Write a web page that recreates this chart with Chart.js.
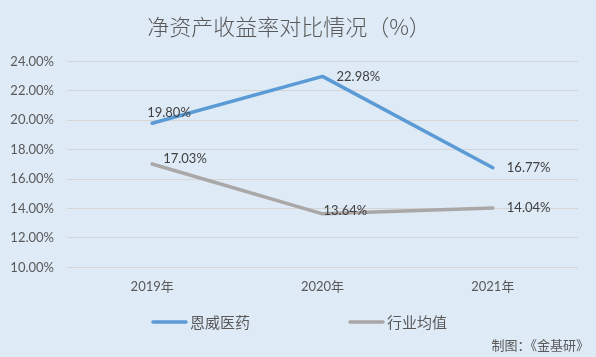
<!DOCTYPE html>
<html>
<head>
<meta charset="utf-8">
<script src="https://cdn.jsdelivr.net/npm/chart.js@4"></script>
<style>
  html, body { margin: 0; padding: 0; background: #DEEAF6; }
  canvas { display: block; }
</style>
</head>
<body>
<canvas id="c" width="596" height="357"></canvas>
<script>
const categories = ['2019年', '2020年', '2021年'];
const seriesNames = ['恩威医药', '行业均值'];
const enweiValues = [19.80, 22.98, 16.77];
const industryValues = [17.03, 13.64, 14.04];
const yTicks = { min: 10, max: 24, step: 2 };
const titleText = '净资产收益率对比情况（%）';
const sourceText = '制图：《金基研》';

const FONT = "Lato, 'Noto Sans CJK SC', sans-serif";
const CJK = "'Noto Sans CJK SC', sans-serif";

// label offsets (dx from point to label left edge, dy to label center)
const labelOffsets = [
  [[-5, -10], [14, 0], [14, 0]],
  [[11, -5], [1, -3], [14, 0]]
];

const bgPlugin = {
  id: 'bg',
  beforeDraw(chart) {
    const ctx = chart.ctx;
    ctx.save();
    ctx.fillStyle = '#DEEAF6';
    ctx.fillRect(0, 0, chart.width, chart.height);
    ctx.restore();
  }
};

const labelsPlugin = {
  id: 'pointLabels',
  afterDatasetsDraw(chart) {
    const ctx = chart.ctx;
    ctx.save();
    ctx.font = "13px " + FONT;
    ctx.fillStyle = '#404040';
    ctx.textAlign = 'left';
    ctx.textBaseline = 'middle';
    chart.data.datasets.forEach((ds, di) => {
      const meta = chart.getDatasetMeta(di);
      meta.data.forEach((pt, i) => {
        const off = labelOffsets[di][i];
        ctx.fillText(ds.data[i].toFixed(2) + '%', pt.x + off[0], pt.y + off[1]);
      });
    });
    ctx.restore();
  }
};

const legendPlugin = {
  id: 'customLegend',
  afterDraw(chart) {
    const ctx = chart.ctx;
    ctx.save();
    const y = 322;
    const starts = [153, 350];
    ctx.font = "15px " + CJK;
    ctx.textBaseline = 'middle';
    ctx.textAlign = 'left';
    chart.data.datasets.forEach((ds, di) => {
      const x = starts[di];
      ctx.strokeStyle = ds.borderColor;
      ctx.lineWidth = 3.5;
      ctx.lineCap = 'round';
      ctx.beginPath();
      ctx.moveTo(x, y);
      ctx.lineTo(x + 33, y);
      ctx.stroke();
      ctx.fillStyle = '#595959';
      ctx.fillText(ds.label, x + 37, y);
    });
    ctx.font = "13px " + CJK;
    ctx.textAlign = 'right';
    ctx.fillText(sourceText, 589, 345);
    ctx.restore();
  }
};

new Chart(document.getElementById('c'), {
  type: 'line',
  data: {
    labels: categories,
    datasets: [
      {
        label: seriesNames[0],
        data: enweiValues,
        borderColor: '#5B9BD5',
        backgroundColor: '#5B9BD5',
        borderWidth: 3.5,
        borderCapStyle: 'round',
        borderJoinStyle: 'round',
        pointRadius: 0,
        tension: 0
      },
      {
        label: seriesNames[1],
        data: industryValues,
        borderColor: '#AAA7A7',
        backgroundColor: '#AAA7A7',
        borderWidth: 3.5,
        borderCapStyle: 'round',
        borderJoinStyle: 'round',
        pointRadius: 0,
        tension: 0
      }
    ]
  },
  options: {
    responsive: false,
    animation: false,
    devicePixelRatio: 1,
    layout: { padding: { left: 0, right: 18, top: 0, bottom: 50 } },
    plugins: {
      legend: { display: false },
      tooltip: { enabled: false },
      title: {
        display: true,
        text: titleText,
        color: '#595959',
        font: { family: CJK, size: 22, weight: '300' },
        padding: { top: 13, bottom: 22 }
      }
    },
    scales: {
      x: {
        offset: true,
        grid: { display: false, drawTicks: false },
        border: { display: false },
        ticks: {
          color: '#595959',
          font: { family: FONT, size: 13 },
          padding: 12,
          maxRotation: 0
        }
      },
      y: {
        min: yTicks.min,
        max: yTicks.max,
        afterFit(scale) { scale.width = 67; },
        grid: { color: '#D5D5D5', lineWidth: 1, drawTicks: false },
        border: { display: false },
        ticks: {
          stepSize: yTicks.step,
          color: '#595959',
          font: { family: FONT, size: 13 },
          padding: 13,
          callback: v => v.toFixed(2) + '%'
        }
      }
    }
  },
  plugins: [bgPlugin, labelsPlugin, legendPlugin]
});
</script>
</body>
</html>
